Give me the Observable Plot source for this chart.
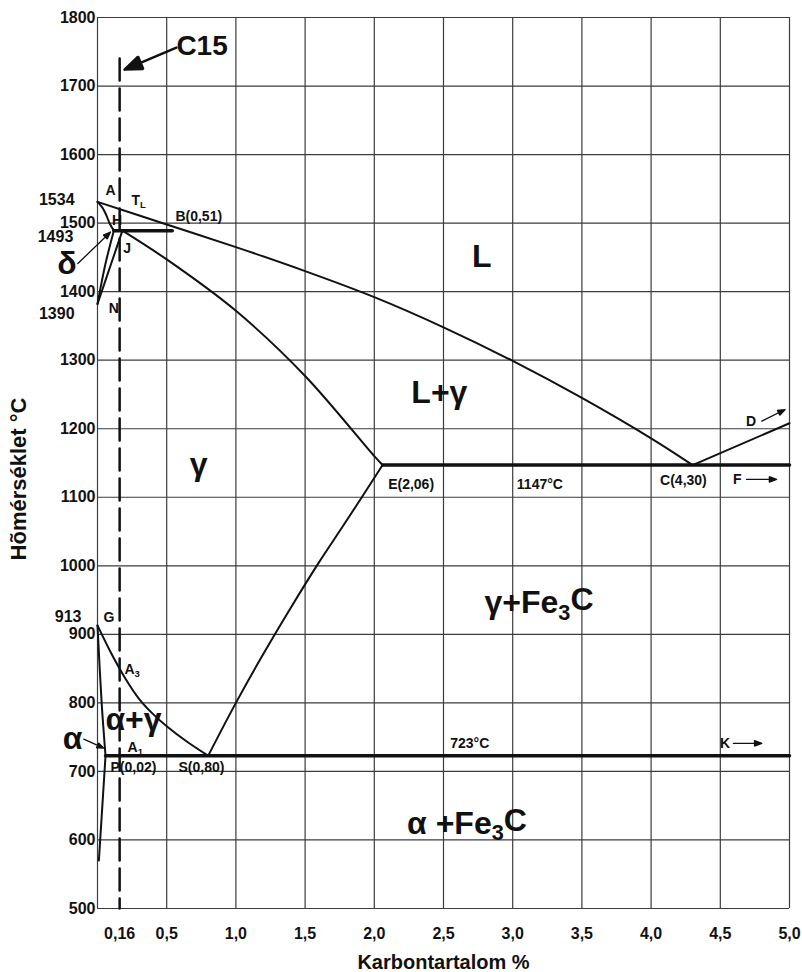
<!DOCTYPE html>
<html>
<head>
<meta charset="utf-8">
<script src="https://cdn.jsdelivr.net/npm/d3@7"></script>
<script src="https://cdn.jsdelivr.net/npm/@observablehq/plot@0.6"></script>
<style>
  html, body { margin: 0; padding: 0; background: #fff; }
  #chart { width: 802px; height: 972px; }
</style>
</head>
<body>
<div id="chart"></div>
<script>
// ---------- axes ----------
const xTicks = [0.16, 0.5, 1, 1.5, 2, 2.5, 3, 3.5, 4, 4.5, 5];
const xTickLabels = ["0,16", "0,5", "1,0", "1,5", "2,0", "2,5", "3,0", "3,5", "4,0", "4,5", "5,0"];
const xGrid = [0, 0.5, 1, 1.5, 2, 2.5, 3, 3.5, 4, 4.5, 5];
const yTicks = [500, 600, 700, 800, 900, 1000, 1100, 1200, 1300, 1400, 1500, 1600, 1700, 1800];

// ---------- phase boundaries [carbon %, °C] ----------
const liquidusABC = [[0, 1531], [0.5, 1498], [1.0, 1465], [1.5, 1430], [2.0, 1392], [2.5, 1348], [3.0, 1299], [3.5, 1245], [4.0, 1186], [4.3, 1147]];
const liquidusCD = [[4.3, 1147], [5.0, 1208]];
const solidusJE = [[0.18, 1489], [0.5, 1447], [1.0, 1372], [1.5, 1277], [2.0, 1160], [2.06, 1147]];
const lineAH = [[0, 1531], [0.034, 1523], [0.065, 1511], [0.089, 1499], [0.118, 1489]];
const lineNH = [[0, 1382], [0.058, 1441], [0.118, 1489]];
const lineNJ = [[0, 1382], [0.099, 1441], [0.18, 1489]];
const lineHJB = [[0.118, 1489], [0.54, 1489]];
const lineECF = [[2.06, 1147], [5.0, 1147]];
const lineES = [[0.8, 723], [1.0, 800], [1.2, 872], [1.4, 940], [1.6, 1005], [1.8, 1066], [2.06, 1147]];
const lineGS = [[0, 913], [0.1, 872], [0.2, 836], [0.3, 806], [0.4, 784], [0.5, 766], [0.65, 743], [0.8, 723]];
const lineGP = [[0, 913], [0.03, 800], [0.058, 723]];
const linePQ = [[0.058, 723], [0.01, 570]];
const linePSK = [[0.058, 723], [5.0, 723]];
const steelC15 = [[0.16, 1740], [0.16, 500]];

// ---------- arrows [x1, y1, x2, y2] ----------
const arrowC15 = [[0.57, 1756, 0.195, 1724]];
const arrowsSmall = [
  [-0.142, 1441, 0.094, 1487],   // delta
  [-0.099, 747, 0.045, 734],     // alpha
  [4.80, 1211, 4.968, 1228],     // D
  [4.69, 1126, 4.907, 1126],     // F
  [4.594, 741, 4.80, 741]        // K
];

// ---------- labels [x, °C, text] ----------
const pointLabelsStart = [
  [0.245, 1533, "T{L}"], [0.563, 1510, "B(0,51)"], [0.043, 924, "G"],
  [0.195, 848, "A{3}"], [0.217, 735, "A{1}"], [0.094, 706, "P(0,02)"],
  [0.585, 706, "S(0,80)"], [4.498, 741, "K"], [4.592, 1126, "F"],
  [4.686, 1211, "D"], [4.065, 1125, "C(4,30)"], [2.10, 1118, "E(2,06)"],
  [3.03, 1118, "1147°C"]
];
const pointLabelsMiddle = [
  [0.094, 1548, "A"], [0.142, 1504, "H"], [0.214, 1463, "J"],
  [0.118, 1375, "N"], [2.69, 740, "723°C"]
];
const tempLabels = [
  [-0.166, 1534, "1534"], [-0.175, 1480, "1493"], [-0.166, 1368, "1390"], [-0.116, 925, "913"]
];
const phaseLabels = [
  [2.776, 1451, "L"], [2.47, 1253, "L+γ"], [0.73, 1147, "γ"],
  [3.19, 946, "γ+Fe{3}C"], [2.67, 624, "α +Fe{3}C"], [0.26, 775, "α+γ"],
  [-0.22, 1441, "δ"], [-0.18, 747, "α"]
];
const steelLabel = [[0.57, 1759, "C15"]];

const FONT = "'Liberation Sans', Arial, Helvetica, sans-serif";
const X = d => d[0], Y = d => d[1];
const thin = {x: X, y: Y, stroke: "#111", strokeWidth: 2, curve: "catmull-rom"};
const bold = {x: X, y: Y, stroke: "#111", strokeWidth: 3.5};
const arrowXY = {x1: d => d[0], y1: d => d[1], x2: d => d[2], y2: d => d[3], stroke: "#111", strokeLinejoin: "miter"};

const chart = Plot.plot({
  width: 802,
  height: 972,
  marginLeft: 97,
  marginRight: 13,
  marginTop: 17,
  marginBottom: 64,
  x: {domain: [0, 5]},
  y: {domain: [500, 1800]},
  style: {fontFamily: FONT, fontWeight: "bold", fontSize: "16px", background: "#fff", color: "#111"},
  marks: [
    Plot.gridX(xGrid, {stroke: "#3c3c3c", strokeOpacity: 1, strokeWidth: 1.2}),
    Plot.gridY(yTicks, {stroke: "#3c3c3c", strokeOpacity: 1, strokeWidth: 1.2}),
    Plot.axisX(xTicks, {tickSize: 0, tickPadding: 19, fontSize: 16, fontWeight: "bold", label: null,
      tickFormat: d => xTickLabels[xTicks.indexOf(d)]}),
    Plot.axisY(yTicks, {tickSize: 0, tickPadding: 2, fontSize: 16, fontWeight: "bold", label: null,
      tickFormat: d => String(d)}),
    Plot.line(steelC15, {x: X, y: Y, stroke: "#111", strokeWidth: 2.5, strokeDasharray: "22,8"}),
    Plot.line(liquidusABC, thin),
    Plot.line(liquidusCD, {...thin, curve: "linear"}),
    Plot.line(solidusJE, thin),
    Plot.line(lineAH, thin),
    Plot.line(lineNH, thin),
    Plot.line(lineNJ, thin),
    Plot.line(lineES, thin),
    Plot.line(lineGS, thin),
    Plot.line(lineGP, thin),
    Plot.line(linePQ, {...thin, curve: "linear"}),
    Plot.line(lineHJB, bold),
    Plot.line(lineECF, bold),
    Plot.line(linePSK, bold),
    Plot.arrow(arrowC15, {...arrowXY, strokeWidth: 2.5, headLength: 15, headAngle: 42}),
    Plot.arrow(arrowsSmall, {...arrowXY, strokeWidth: 1.3, headLength: 9, headAngle: 42}),
    Plot.text(pointLabelsStart, {x: X, y: Y, text: d => d[2], textAnchor: "start", fontSize: 14, fontWeight: "bold", fill: "#111"}),
    Plot.text(pointLabelsMiddle, {x: X, y: Y, text: d => d[2], textAnchor: "middle", fontSize: 14, fontWeight: "bold", fill: "#111"}),
    Plot.text(tempLabels, {x: X, y: Y, text: d => d[2], textAnchor: "end", fontSize: 16, fontWeight: "bold", fill: "#111"}),
    Plot.text(phaseLabels, {x: X, y: Y, text: d => d[2], textAnchor: "middle", fontSize: 32, fontWeight: "bold", fill: "#111"}),
    Plot.text(steelLabel, {x: X, y: Y, text: d => d[2], textAnchor: "start", fontSize: 28, fontWeight: "bold", fill: "#111"}),
    Plot.text(["Karbontartalom %"], {frameAnchor: "bottom", dy: 54, lineAnchor: "middle", fontSize: 20, fontWeight: "bold", fill: "#111"}),
    Plot.text(["Hõmérséklet °C"], {frameAnchor: "left", dx: -79, dy: 16, rotate: -90, textAnchor: "middle", lineAnchor: "middle", fontSize: 22, fontWeight: "bold", fill: "#111"})
  ]
});

// subscripts written as {..} become real <tspan> subscripts
chart.querySelectorAll("text").forEach(t => {
  const s = t.textContent;
  if (!s.includes("{")) return;
  t.textContent = "";
  const parts = s.split(/(\{[^}]*\})/).filter(p => p.length);
  let shifted = false;
  for (const p of parts) {
    const ts = document.createElementNS("http://www.w3.org/2000/svg", "tspan");
    if (p.startsWith("{")) {
      ts.textContent = p.slice(1, -1);
      ts.setAttribute("dy", "0.3em");
      ts.setAttribute("font-size", "68%");
      shifted = true;
    } else {
      ts.textContent = p;
      if (shifted) { ts.setAttribute("dy", "-0.3em"); shifted = false; }
    }
    t.appendChild(ts);
  }
});

// fill the arrowheads (close the head sub-path of each arrow)
chart.querySelectorAll('g[aria-label="arrow"] path').forEach(p => {
  const n = (p.getAttribute("d").match(/-?\d*\.?\d+(?:e-?\d+)?/g) || []).map(Number);
  if (n.length !== 10) return;
  p.setAttribute("d", `M${n[0]},${n[1]}L${n[2]},${n[3]}M${n[4]},${n[5]}L${n[6]},${n[7]}L${n[8]},${n[9]}Z`);
  p.setAttribute("fill", "#111");
});

document.getElementById("chart").appendChild(chart);
</script>
</body>
</html>
